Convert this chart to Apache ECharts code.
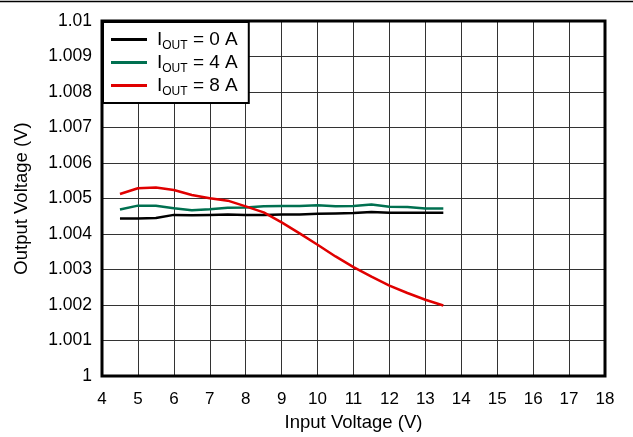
<!DOCTYPE html>
<html><head><meta charset="utf-8">
<script src="https://cdn.jsdelivr.net/npm/echarts@6/dist/echarts.min.js"></script>
<style>html,body{margin:0;padding:0;background:#fff}#c{width:633px;height:437px}</style>
</head><body><div id="c"></div>
<script>
const vin = [4.5,5,5.5,6,6.5,7,7.5,8,8.5,9,9.5,10,10.5,11,11.5,12,12.5,13,13.5];
const vout0A = [1.00444,1.00444,1.00445,1.00454,1.00453,1.00454,1.00455,1.00454,1.00454,1.00455,1.00455,1.00457,1.00458,1.00459,1.00462,1.0046,1.0046,1.0046,1.0046];
const vout4A = [1.00469,1.0048,1.0048,1.00473,1.00467,1.0047,1.00474,1.00475,1.00478,1.00479,1.00479,1.00481,1.00478,1.00479,1.00483,1.00477,1.00476,1.00472,1.00472];
const vout8A = [1.00513,1.00529,1.00531,1.00524,1.0051,1.00501,1.00494,1.00478,1.00461,1.00433,1.00402,1.0037,1.00337,1.00307,1.0028,1.00255,1.00234,1.00215,1.00199];
const seriesNames = ['0 A','4 A','8 A'];
const colors = ['#000000','#007050','#e00000'];
const xTicks = {min:4,max:18,interval:1};
const yTicks = {min:1,max:1.01,interval:0.001};

const font = 'Liberation Sans, Arial, sans-serif';
const chart = echarts.init(document.getElementById('c'), null, {renderer:'canvas'});
const mk = (arr) => vin.map((x,i)=>[x,arr[i]]);
const all = [vout0A,vout4A,vout8A];
chart.setOption({
  animation:false,
  backgroundColor:'#fff',
  graphic:[{type:'line',shape:{x1:0,y1:1.5,x2:633,y2:1.5},style:{stroke:'#000',lineWidth:1.5}}],
  grid:{left:102,right:28,top:21,bottom:59,show:true,borderColor:'#000',borderWidth:3,backgroundColor:'transparent',z:10},
  legend:{
    left:103,top:22,orient:'vertical',
    backgroundColor:'#fff',borderColor:'#000',borderWidth:2,borderRadius:0,
    padding:[8,11,5,8],itemGap:1,itemWidth:36,itemHeight:3,
    icon:'rect',
    data:seriesNames.map((n,i)=>({name:n,itemStyle:{color:colors[i]}})),
    formatter: n => '{i|I}{s|OUT}{a| = ' + n + '}',
    textStyle:{fontFamily:font,color:'#000',rich:{
      i:{fontSize:19,fontFamily:font,color:'#000',verticalAlign:'bottom',lineHeight:19,padding:[0,0,0,5]},
      a:{fontSize:19,fontFamily:font,color:'#000',verticalAlign:'bottom',lineHeight:19},
      s:{fontSize:12,fontFamily:font,color:'#000',verticalAlign:'bottom',padding:[0,0,-3,0],lineHeight:19}
    }}
  },
  xAxis:{type:'value',min:xTicks.min,max:xTicks.max,interval:xTicks.interval,
    name:'Input Voltage (V)',nameLocation:'middle',nameGap:33,
    nameTextStyle:{fontFamily:font,fontSize:18.5,color:'#000'},
    axisLine:{show:false},axisTick:{show:false},
    axisLabel:{fontFamily:font,fontSize:17,color:'#000',margin:15},
    splitLine:{show:true,lineStyle:{color:'#333',width:1}}},
  yAxis:{type:'value',min:yTicks.min,max:yTicks.max,interval:yTicks.interval,
    name:'Output Voltage (V)',nameLocation:'middle',nameGap:71,
    nameTextStyle:{fontFamily:font,fontSize:18.5,color:'#000'},
    axisLine:{show:false},axisTick:{show:false},
    axisLabel:{fontFamily:font,fontSize:17.5,color:'#000',margin:10,padding:[3,0,0,0],
      formatter:v=>String(parseFloat(v.toFixed(4)))},
    splitLine:{show:true,lineStyle:{color:'#333',width:1}}},
  series: all.map((arr,i)=>({
    name:seriesNames[i],type:'line',data:mk(arr),symbol:'none',smooth:false,
    lineStyle:{color:colors[i],width:2.5},itemStyle:{color:colors[i]},z:3
  }))
});
</script></body></html>
